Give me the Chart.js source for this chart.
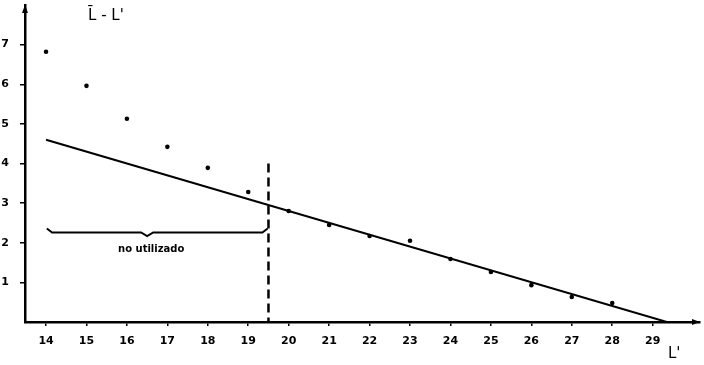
<!DOCTYPE html>
<html>
<head>
<meta charset="utf-8">
<script src="https://cdn.jsdelivr.net/npm/chart.js@4.4.1/dist/chart.umd.min.js"></script>
<style>
  html, body { margin: 0; padding: 0; background: #fff; }
  #wrap { width: 704px; height: 365px; position: relative; }
</style>
</head>
<body>
<div id="wrap"><canvas id="grafico"></canvas></div>
<script>
// valores
const lPrima = [14, 15, 16, 17, 18, 19, 20, 21, 22, 23, 24, 25, 26, 27, 28];
const diferencia = [6.82, 5.96, 5.13, 4.42, 3.89, 3.28, 2.80, 2.45, 2.17, 2.05, 1.59, 1.26, 0.93, 0.63, 0.48];
const rectaX = [14, 29.35];
const rectaY = [4.6, 0];
const corteX = [19.5, 19.5];
const corteY = [4.0, 0];
const llaveX = [14.02, 14.15, 16.35, 16.5, 16.65, 19.35, 19.48];
const llaveY = [2.36, 2.26, 2.26, 2.17, 2.26, 2.26, 2.36];
const ticksX = [14, 15, 16, 17, 18, 19, 20, 21, 22, 23, 24, 25, 26, 27, 28, 29];
const ticksY = [1, 2, 3, 4, 5, 6, 7];

const fuente = { family: "DejaVu Sans", size: 11, weight: "bold" };
const par = (xs, ys) => xs.map((x, i) => ({ x, y: ys[i] }));

const extras = {
  id: "extras",
  afterDraw(chart) {
    const { ctx, scales: { x, y }, chartArea } = chart;
    ctx.save();
    ctx.fillStyle = "#000";
    ctx.strokeStyle = "#000";
    // flechas de los ejes
    ctx.beginPath();
    ctx.moveTo(chartArea.left - 3, chartArea.top + 8);
    ctx.lineTo(chartArea.left, chartArea.top);
    ctx.lineTo(chartArea.left + 3, chartArea.top + 8);
    ctx.fill();
    ctx.beginPath();
    ctx.moveTo(chartArea.right - 8, chartArea.bottom - 3);
    ctx.lineTo(chartArea.right, chartArea.bottom);
    ctx.lineTo(chartArea.right - 8, chartArea.bottom + 3);
    ctx.fill();
    // textos
    ctx.font = "bold 10px 'DejaVu Sans'";
    ctx.textAlign = "center";
    ctx.textBaseline = "middle";
    ctx.fillText("no utilizado", x.getPixelForValue(16.6), y.getPixelForValue(1.82));
    ctx.font = "15px 'DejaVu Sans'";
    ctx.textAlign = "left";
    ctx.fillText("L\u0304 - L'", 88, 16);
    ctx.fillText("L'", 668, 354);
    ctx.restore();
  }
};

new Chart(document.getElementById("grafico"), {
  type: "scatter",
  data: {
    datasets: [
      {
        data: par(lPrima, diferencia),
        pointRadius: 2.3,
        pointBackgroundColor: "#000",
        pointBorderWidth: 0
      },
      {
        data: par(rectaX, rectaY),
        showLine: true,
        borderColor: "#000",
        borderWidth: 2,
        pointRadius: 0
      },
      {
        data: par(corteX, corteY),
        showLine: true,
        borderColor: "#000",
        borderWidth: 2.5,
        borderDash: [9, 5],
        pointRadius: 0
      },
      {
        data: par(llaveX, llaveY),
        showLine: true,
        borderColor: "#000",
        borderWidth: 2,
        tension: 0,
        pointRadius: 0
      }
    ]
  },
  options: {
    responsive: true,
    maintainAspectRatio: false,
    animation: false,
    layout: { padding: { top: 5, right: 0, left: 0, bottom: 0 } },
    plugins: {
      legend: { display: false },
      tooltip: { enabled: false }
    },
    scales: {
      x: {
        type: "linear",
        min: 13.48,
        max: 30.17,
        afterFit: s => { s.height = 43; s.paddingLeft = 0; s.paddingRight = 0; },
        afterBuildTicks: s => { s.ticks = ticksX.map(v => ({ value: v })); },
        grid: { drawOnChartArea: false, drawTicks: true, tickLength: 4, color: "#000", lineWidth: 1.5 },
        border: { color: "#000", width: 2.5 },
        ticks: { color: "#000", font: fuente, padding: 9, maxRotation: 0, autoSkip: false }
      },
      y: {
        type: "linear",
        min: 0,
        max: 8,
        afterFit: s => { s.width = 25; s.paddingTop = 0; s.paddingBottom = 0; },
        afterBuildTicks: s => { s.ticks = ticksY.map(v => ({ value: v })); },
        grid: { drawOnChartArea: false, drawTicks: true, tickLength: 5, color: "#000", lineWidth: 1.5 },
        border: { color: "#000", width: 2.5 },
        ticks: { color: "#000", font: fuente, padding: 11 }
      }
    }
  },
  plugins: [extras]
});
</script>
</body>
</html>
